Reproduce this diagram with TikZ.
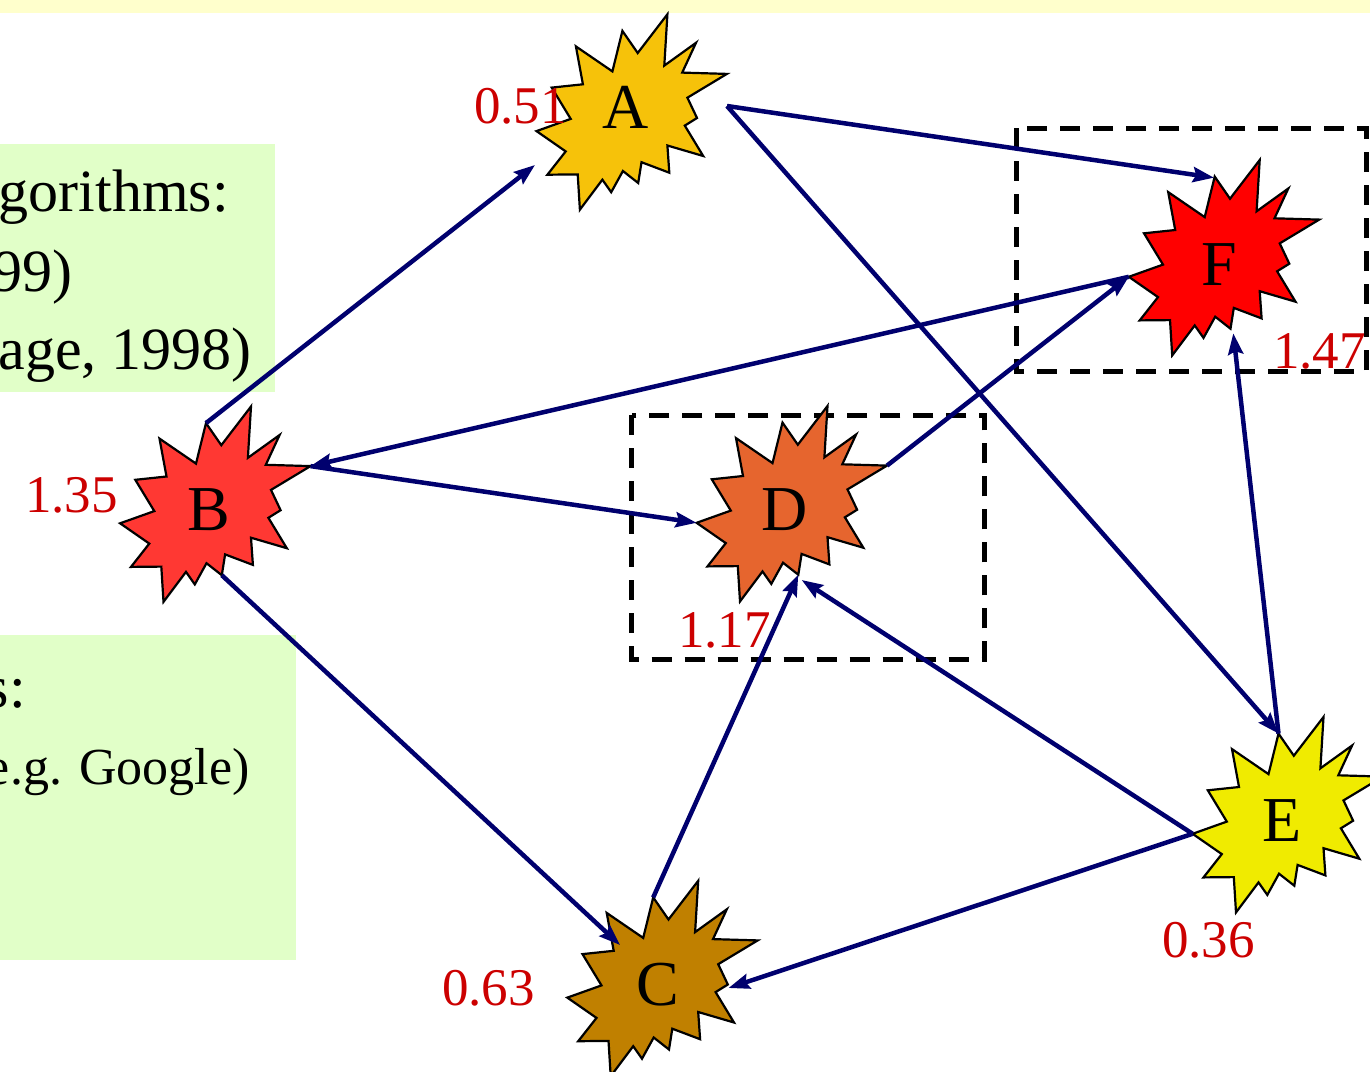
\documentclass[tikz,border=0pt]{standalone}
\usepackage{fontspec}
\setmainfont{Liberation Serif}
\usetikzlibrary{arrows.meta}

\definecolor{navy}{RGB}{0,0,110}
\definecolor{valred}{RGB}{204,0,0}
\definecolor{bandyellow}{RGB}{255,255,204}
\definecolor{notegreen}{RGB}{225,255,200}
\definecolor{cA}{RGB}{246,194,10}
\definecolor{cB}{RGB}{255,56,51}
\definecolor{cC}{RGB}{192,128,0}
\definecolor{cD}{RGB}{230,101,46}
\definecolor{cE}{RGB}{240,235,0}
\definecolor{cF}{RGB}{255,0,0}

\tikzset{
  burstline/.style={draw=black, line width=2.2pt, line join=miter, miter limit=20},
  edge/.style={draw=navy, line width=4.5pt, -{Stealth[length=21pt,width=15pt,inset=3pt]}},
  groupbox/.style={draw=black, line width=5pt, dash pattern=on 20pt off 13pt},
  letter/.style={inner sep=0pt, anchor=base, font=\fontsize{64}{76}\selectfont},
  val/.style={inner sep=0pt, anchor=base west, text=valred, font=\fontsize{53}{63}\selectfont},
  note/.style={inner sep=0pt, anchor=base east, font=\fontsize{60}{72}\selectfont},
  subnote/.style={inner sep=0pt, anchor=base east, font=\fontsize{52}{62}\selectfont}
}

% fourteen-spike explosion outline around a given centre
\newcommand\drawburst[2]{%
  \draw[burstline, fill=#2, shift={#1}]
    (35.7,-97.7) -- (32.6,-46.4) -- (64.3,-69.2) -- (50.5,-39.4) --
    (95.2,-38.1) -- (55.7,-14.3) -- (65.3,6) -- (53.1,13.6) --
    (71.5,44) -- (35.7,33.5) -- (37.6,60.7) -- (9.8,50.2) --
    (6.5,71) -- (-8.8,59) -- (-20.5,80.2) -- (-29.3,67.7) --
    (-51.8,97.7) -- (-54,62.4) -- (-84.3,62.7) -- (-66,39.4) --
    (-95.2,19.1) -- (-61,6.9) -- (-80,-24.4) -- (-48.8,-27.7) --
    (-55.8,-65.6) -- (-19.3,-40.6) -- (-9.3,-81.1) -- (6,-59) -- cycle;}

\begin{document}
\begin{tikzpicture}[x=1pt, y=-1pt]
\useasboundingbox (0,0) rectangle (1370,1071);
\fill[white] (0,0) rectangle (1370,1071);

% title band and side notes
\fill[bandyellow] (0,0) rectangle (1370,13);
\fill[notegreen] (0,144) rectangle (275,392);
\fill[notegreen] (0,635) rectangle (296,960);

\node[note] (n1) at (229,211.7) {gorithms:};
\node[note] (n2) at (73,291.7) {99)};
\node[note] (n3) at (252,369) {age, 1998)};
\node[note] (n4) at (26,707) {s:};
\node[subnote] (n5) at (250,784) {e.g. Google)};

% grouping boxes
\draw[groupbox] (631.7,415) rectangle (984,659);
\draw[groupbox] (1016,128) rectangle (1366,371);

% page centres
\coordinate (A) at (631.7,112);
\coordinate (B) at (215.3,504.2);
\coordinate (C) at (662.5,978.5);
\coordinate (D) at (791.8,503.7);
\coordinate (E) at (1287.8,814.7);
\coordinate (F) at (1224,257.7);

\drawburst{(A)}{cA}
\drawburst{(B)}{cB}
\drawburst{(C)}{cC}
\drawburst{(D)}{cD}
\drawburst{(E)}{cE}
\drawburst{(F)}{cF}

\node[letter] (tA) at (626,128) {A};
\node[letter] (tB) at (209,530) {B};
\node[letter] (tC) at (658,1005) {C};
\node[letter] (tD) at (785,530) {D};
\node[letter] (tE) at (1282.5,841.7) {E};
\node[letter] (tF) at (1219,285) {F};

% links
\draw[edge] ([shift={(-9.3,-81.1)}]B) -- ([shift={(-96.7,53)}]A);
\draw[edge] ([shift={(95.3,-6)}]A) -- ([shift={(-10,-80)}]F);
\draw[edge] ([shift={(95.3,-6)}]A) -- ([shift={(-9.3,-81.1)}]E);
\draw[edge] ([shift={(-95.2,19.1)}]F) -- ([shift={(95.2,-38.1)}]B);
\draw[edge] ([shift={(95.2,-38.1)}]B) -- ([shift={(-95.2,19.1)}]D);
\draw[edge] ([shift={(6.5,71)}]B) -- ([shift={(-42.5,-33.5)}]C);
\draw[edge] ([shift={(-9.3,-81.1)}]C) -- ([shift={(6.5,71)}]D);
\draw[edge] ([shift={(-95.2,19.1)}]E) -- ([shift={(9.9,76.3)}]D);
\draw[edge] ([shift={(-95.2,19.1)}]E) -- ([shift={(66,9.5)}]C);
\draw[edge] ([shift={(-9.3,-81.1)}]E) -- ([shift={(9.3,75.6)}]F);
\draw[edge] ([shift={(95.2,-38.1)}]D) -- ([shift={(-95.2,19.1)}]F);

% page scores
\node[val] (vA) at (474,123) {0.51};
\node[val] (vB) at (25,512) {1.35};
\node[val] (vC) at (442,1005) {0.63};
\node[val] (vD) at (678,647) {1.17};
\node[val] (vE) at (1162,957) {0.36};
\node[val] (vF) at (1273,368) {1.47};
\end{tikzpicture}
\end{document}
